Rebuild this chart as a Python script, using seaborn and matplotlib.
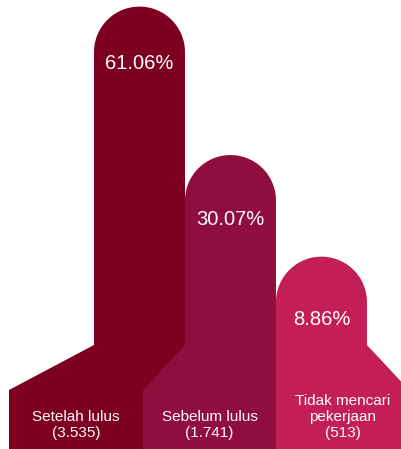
import numpy as np
import pandas as pd
import matplotlib
matplotlib.use("Agg")
import matplotlib.pyplot as plt
from matplotlib.path import Path
from matplotlib.patches import PathPatch
import seaborn as sns

# ---- data ----
categories = ["Setelah lulus", "Sebelum lulus", "Tidak mencari"]
percent = [61.06, 30.07, 8.86]
percent_labels = ["61.06%", "30.07%", "8.86%"]
base_labels = ["Setelah lulus\n(3.535)", "Sebelum lulus\n(1.741)", "Tidak mencari\npekerjaan\n(513)"]
colors = ["#7e0020", "#8f0e3e", "#c41f55"]

sns.set_theme(style="white")
plt.rcParams["font.family"] = ["Liberation Sans", "DejaVu Sans"]

W, H = 401, 449
fig = plt.figure(figsize=(W / 100, H / 100), dpi=100)
ax = fig.add_axes([0, 0, 1, 1])

df = pd.DataFrame({"kategori": categories, "persen": percent})
sns.barplot(data=df, x="kategori", y="persen", hue="kategori", palette=colors,
            width=1.0, saturation=1, legend=False, ax=ax)

ax.set_xlim(-1.533, 2.874)
y0 = -31.3
ax.set_ylim(y0, y0 + H / 4.79)
ax.axis("off")

# ramps: (side, horizontal spread px) ; start / end height above bottom in px
ramps = [("left", 85), ("left", 42), ("right", 42)]
text_offsets = [56.5, 64.5, 63]
ramp_top, ramp_bot = 104, 59

tr = ax.transData
inv = tr.inverted()
n = len(categories)
for i, p in enumerate(ax.patches[:n]):
    x0, w, h = p.get_x(), p.get_width(), p.get_height()
    (lx, ty), (rx, _) = tr.transform([(x0, h), (x0 + w, h)])
    by = tr.transform([(x0, y0)])[0][1]
    r = (rx - lx) / 2
    cx = (lx + rx) / 2
    side, spread = ramps[i]
    verts = []
    if side == "left":
        verts += [(lx - spread, by), (lx - spread, by + ramp_bot), (lx, by + ramp_top)]
    else:
        verts += [(lx, by)]
    verts += [(lx, ty - r)]
    th = np.linspace(np.pi, 0, 60)
    verts += [(cx + r * np.cos(t), ty - r + r * np.sin(t)) for t in th]
    if side == "right":
        verts += [(rx, by + ramp_top), (rx + spread, by + ramp_bot), (rx + spread, by)]
    else:
        verts += [(rx, by)]
    verts.append(verts[0])
    dverts = inv.transform(verts)
    codes = [Path.MOVETO] + [Path.LINETO] * (len(dverts) - 2) + [Path.CLOSEPOLY]
    p.set_visible(False)
    ax.add_patch(PathPatch(Path(dverts, codes), facecolor=colors[i],
                           edgecolor="none", zorder=2 + i))
    # percentage text
    tx, tyd = inv.transform([(cx, ty - text_offsets[i])])[0]
    ax.text(tx, tyd, percent_labels[i], color="white", fontsize=14.5,
            ha="center", va="center", zorder=10)
    # base label, centered on visible base
    left_edge = lx - spread if side == "left" else lx
    right_edge = rx + spread if side == "right" else rx
    if i + 1 < n and ramps[i + 1][0] == "left":
        right_edge = rx - ramps[i + 1][1]
    bx = (left_edge + right_edge) / 2
    lxd, lyd = inv.transform([(bx, by + 9)])[0]
    ax.text(lxd, lyd, base_labels[i], color="white", fontsize=11,
            ha="center", va="bottom", linespacing=1.2, zorder=10)

fig.savefig("out.png", dpi=100, facecolor="white")
